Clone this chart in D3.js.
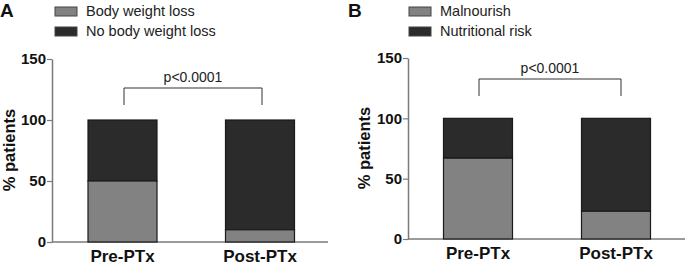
<!DOCTYPE html>
<html>
<head>
<meta charset="utf-8">
<script src="https://cdn.jsdelivr.net/npm/d3@7"></script>
<style>
  body { margin: 0; background: #fff; }
  svg text { font-family: "Liberation Sans", Arial, sans-serif; }
</style>
</head>
<body>
<svg id="chart" width="685" height="265"></svg>
<script>
// groups on the x axis
var groups = ["Pre-PTx", "Post-PTx"];
var yTicks = [0, 50, 100, 150];

// panel A: body weight loss
var seriesA = ["Body weight loss", "No body weight loss"];
var lowerA = [50, 10];
var upperA = [50, 90];

// panel B: nutritional status
var seriesB = ["Malnourish", "Nutritional risk"];
var lowerB = [67, 23];
var upperB = [33, 77];

var pLabel = "p<0.0001";

var light = "#828282", dark = "#2b2b2b", axisCol = "#7a7a7a";

var svg = d3.select("#chart");

function drawPanel(opt) {
    var g = svg.append("g").attr("transform", "translate(" + opt.left + ",0)");

    // bar centres
    var xc = d3.scalePoint().domain(groups).range([opt.c1, opt.c2]);
    var y = d3.scaleLinear().domain([0, 150]).range([opt.y0, opt.y150]);

    var barW = 69;

    // axes
    var ya = g.append("g").call(d3.axisLeft(y).tickValues(yTicks).tickSize(5).tickSizeOuter(0));
    ya.select(".domain").attr("stroke", axisCol).attr("stroke-width", 1.5);
    ya.selectAll(".tick line").attr("stroke", axisCol).attr("stroke-width", 1.2);
    ya.selectAll(".tick text").attr("font-size", 15).attr("font-weight", "bold")
      .attr("fill", "#111").attr("font-family", "Liberation Sans, Arial, sans-serif").attr("x", -6);

    g.append("line").attr("x1", 0).attr("x2", opt.width)
      .attr("y1", y(0)).attr("y2", y(0)).attr("stroke", axisCol).attr("stroke-width", 1.5);

    g.selectAll(".xlab").data(groups).enter().append("text")
      .attr("x", function(d) { return xc(d); })
      .attr("y", y(0) + 20)
      .attr("text-anchor", "middle")
      .attr("font-size", 17).attr("font-weight", "bold").attr("fill", "#111")
      .text(function(d) { return d; });

    // stacked bars
    var rows = groups.map(function(d, i) { return { key: d, lo: opt.lower[i], hi: opt.upper[i] }; });
    var bars = g.selectAll(".bar").data(rows).enter().append("g");
    bars.append("rect")
      .attr("x", function(d) { return xc(d.key) - barW / 2; })
      .attr("width", barW)
      .attr("y", function(d) { return y(d.lo + d.hi); })
      .attr("height", function(d) { return y(d.lo) - y(d.lo + d.hi); })
      .attr("fill", dark).attr("stroke", "#1a1a1a").attr("stroke-width", 1.2);
    bars.append("rect")
      .attr("x", function(d) { return xc(d.key) - barW / 2; })
      .attr("width", barW)
      .attr("y", function(d) { return y(d.lo); })
      .attr("height", function(d) { return y(0) - y(d.lo); })
      .attr("fill", light).attr("stroke", "#1a1a1a").attr("stroke-width", 1.2);

    // significance bracket
    var bx1 = opt.b1, bx2 = opt.b2;
    g.append("path")
      .attr("d", "M" + bx1 + "," + opt.bBot + "V" + opt.bTop + "H" + bx2 + "V" + opt.bBot)
      .attr("fill", "none").attr("stroke", "#333").attr("stroke-width", 1);
    g.append("text")
      .attr("x", (bx1 + bx2) / 2).attr("y", opt.bTop - 6)
      .attr("text-anchor", "middle").attr("font-size", 14).attr("fill", "#222")
      .text(pLabel);

    // legend
    var leg = g.selectAll(".leg").data(opt.series).enter().append("g")
      .attr("transform", function(d, i) { return "translate(" + opt.legX + "," + (opt.legY + i * 20) + ")"; });
    leg.append("rect").attr("x", 0).attr("y", -9).attr("width", 22).attr("height", 9)
      .attr("fill", function(d, i) { return i === 0 ? light : dark; })
      .attr("stroke", "#444").attr("stroke-width", 1);
    leg.append("text").attr("x", 31).attr("y", 0)
      .attr("font-size", 14.5).attr("fill", "#222")
      .text(function(d) { return d; });

    // panel letter
    g.append("text").attr("x", opt.letX).attr("y", 17)
      .attr("font-size", 19).attr("font-weight", "bold").attr("fill", "#111")
      .text(opt.letter);

    // y axis title
    g.append("text")
      .attr("transform", "translate(" + opt.titleX + "," + opt.titleY + ") rotate(-90)")
      .attr("text-anchor", "middle")
      .attr("font-size", 16.5).attr("font-weight", "bold").attr("fill", "#111")
      .text("% patients");
}

drawPanel({
    left: 52, width: 276, y0: 242, y150: 59,
    c1: 70.5, c2: 208,
    lower: lowerA, upper: upperA, series: seriesA,
    b1: 72, b2: 210, bTop: 88, bBot: 105,
    legX: 3, legY: 16, letX: -52, letter: "A",
    titleX: -37, titleY: 150
});

drawPanel({
    left: 408, width: 277, y0: 239, y150: 58,
    c1: 70, c2: 208,
    lower: lowerB, upper: upperB, series: seriesB,
    b1: 71, b2: 213, bTop: 79, bBot: 96,
    legX: 1, legY: 16, letX: -60, letter: "B",
    titleX: -38, titleY: 148
});
</script>
</body>
</html>
